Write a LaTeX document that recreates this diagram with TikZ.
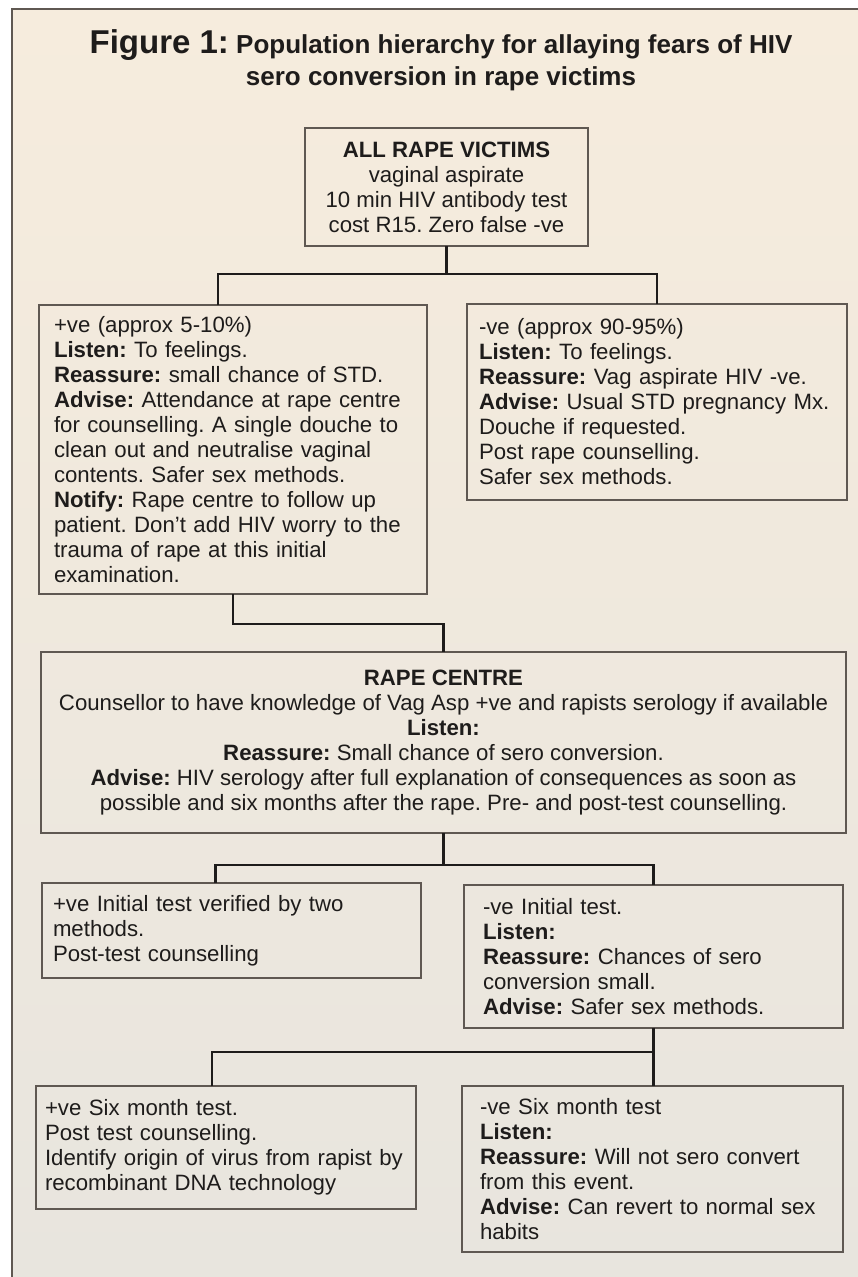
\documentclass[tikz,border=0pt]{standalone}
\usepackage{fontspec}
\setmainfont{Liberation Sans}
\frenchspacing
\definecolor{paper}{RGB}{246,236,221}
\definecolor{paperlow}{RGB}{232,229,222}
\definecolor{ink}{RGB}{30,28,27}
\definecolor{edge}{RGB}{95,88,82}
\tikzset{
    box/.style={draw=edge, line width=1.1pt, outer sep=0pt, inner ysep=3pt,
        anchor=north west, align=left, text=ink,
        font=\fontsize{22.2}{25}\selectfont},
    link/.style={draw=ink, line width=2.6pt},
    heading/.style={text=ink, align=center, inner sep=0pt,
        font=\bfseries\fontsize{26}{32}\selectfont}
}
\begin{document}
\begin{tikzpicture}[x=1pt,y=-1pt]

            \useasboundingbox (0,0) rectangle (858,1277);
            \path[fill=white] (0,0) rectangle (858,1277);
            \shade[top color=paper, bottom color=paperlow] (12,9) rectangle (858,1277);
            \path[draw=edge,line width=2pt] (12,1277) -- (12,9) -- (858,9);

            \node[heading, anchor=north] (title) at (441,29) {{\fontsize{33}{32}\selectfont Figure 1:} Population hierarchy for allaying fears of HIV\\sero conversion in rape victims};

            \node[box, align=center, inner xsep=4pt, minimum width=283pt, minimum height=118pt] (victims) at (305,128)
                {\textbf{ALL RAPE VICTIMS}\\vaginal aspirate\\10 min HIV antibody test\\cost R15. Zero false -ve};

            \node[box, inner xsep=15pt, text width=358pt, minimum height=289pt] (posve) at (39,305)
                {+ve (approx 5-10\%)\\
                \textbf{Listen:} To feelings.\\
                \textbf{Reassure:} small chance of STD.\\
                \textbf{Advise:} Attendance at rape centre\\
                for counselling. A single douche to\\
                clean out and neutralise vaginal\\
                contents. Safer sex methods.\\
                \textbf{Notify:} Rape centre to follow up\\
                patient. Don't add HIV worry to the\\
                trauma of rape at this initial\\
                examination.};
            \node[box, inner xsep=12pt, text width=356pt, minimum height=196pt] (negve) at (467,304)
                {-ve (approx 90-95\%)\\
                \textbf{Listen:} To feelings.\\
                \textbf{Reassure:} Vag aspirate HIV -ve.\\
                \textbf{Advise:} Usual STD pregnancy Mx.\\
                Douche if requested.\\
                Post rape counselling.\\
                Safer sex methods.};

            \node[box, align=center, inner xsep=6pt, minimum width=805pt, minimum height=181pt] (centre) at (41,652)
                {\textbf{RAPE CENTRE}\\
                Counsellor to have knowledge of Vag Asp +ve and rapists serology if available\\
                \textbf{Listen:}\\
                \textbf{Reassure:} Small chance of sero conversion.\\
                \textbf{Advise:} HIV serology after full explanation of consequences as soon as\\
                possible and six months after the rape. Pre- and post-test counselling.};

            \node[box, inner xsep=11pt, text width=357pt, minimum height=95pt] (initpos) at (42,883)
                {+ve Initial test verified by two\\
                methods.\\
                Post-test counselling};
            \node[box, inner xsep=19pt, text width=341pt, minimum height=143pt] (initneg) at (464,885)
                {-ve Initial test.\\
                \textbf{Listen:}\\
                \textbf{Reassure:} Chances of sero\\
                conversion small.\\
                \textbf{Advise:} Safer sex methods.};

            \node[box, inner xsep=9pt, text width=362pt, minimum height=123pt] (sixpos) at (36,1086)
                {+ve Six month test.\\
                Post test counselling.\\
                Identify origin of virus from rapist by\\
                recombinant DNA technology};
            \node[box, inner xsep=18pt, text width=345pt, minimum height=166pt] (sixneg) at (462,1086)
                {-ve Six month test\\
                \textbf{Listen:}\\
                \textbf{Reassure:} Will not sero convert\\
                from this event.\\
                \textbf{Advise:} Can revert to normal sex\\
                habits};

            \coordinate (fork1) at (446,274);
            \coordinate (fork2) at (442,624);
            \coordinate (fork3) at (442,865);
            \coordinate (fork4) at (652,1052);

            \path[link] (victims.south) -- (victims.south |- fork1);
            \path[link] ([xshift=-15pt]posve.north) |- (negve.north |- fork1) -- (negve.north);
            \path[link] (posve.south) |- (centre.north |- fork2) -- (centre.north);
            \path[link] (centre.south) -- (centre.south |- fork3);
            \path[link] ([xshift=-16pt]initpos.north) |- (initneg.north |- fork3) -- (initneg.north);
            \path[link] (initneg.south) -- (initneg.south |- sixneg.north);
            \path[link] ([xshift=-14pt]sixpos.north) |- (initneg.south |- fork4);
        \end{tikzpicture}
\end{document}
